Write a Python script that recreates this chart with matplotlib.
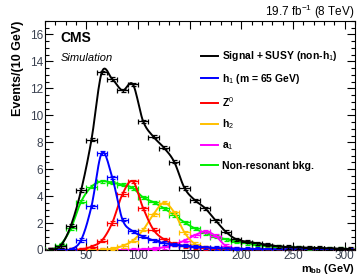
import numpy as np
import matplotlib
matplotlib.use("Agg")
import matplotlib.pyplot as plt
from matplotlib.ticker import MultipleLocator
from matplotlib import font_manager

names = {f.name for f in font_manager.fontManager.ttflist}
FONT = "Liberation Sans Narrow" if "Liberation Sans Narrow" in names else "Liberation Sans"
plt.rcParams['font.family'] = [FONT, 'DejaVu Sans']
plt.rcParams['mathtext.fontset'] = 'custom'
plt.rcParams['mathtext.rm'] = FONT
plt.rcParams['mathtext.bf'] = FONT + ':bold'
plt.rcParams['mathtext.it'] = FONT + ':italic'

# bin centers (GeV), 10 GeV bins
mbb = [15, 25, 35, 45, 55, 65, 75, 85, 95, 105, 115, 125, 135, 145, 155,
       165, 175, 185, 195, 205, 215, 225, 235, 245, 255, 265, 275, 285, 295, 305]

total = [0.02, 0.3, 1.8, 4.45, 8.2, 13.2, 12.7, 11.85, 12.3, 9.55, 8.4, 7.6, 6.55, 4.6, 3.7,
         3.1, 2.2, 1.35, 0.8, 0.62, 0.5, 0.4, 0.28, 0.22, 0.2, 0.17, 0.14, 0.12, 0.1, 0.08]
h1 = [0.0, 0.0, 0.05, 0.75, 3.25, 7.2, 5.4, 2.25, 1.4, 1.0, 0.72, 0.52, 0.4, 0.32, 0.25,
      0.2, 0.15, 0.12, 0.1, 0.08, 0.07, 0.06, 0.06, 0.05, 0.05, 0.04, 0.04, 0.03, 0.03, 0.03]
z0 = [0.0, 0.0, 0.0, 0.05, 0.25, 0.7, 2.0, 4.15, 5.1, 3.1, 1.5, 0.8, 0.45, 0.3, 0.2,
      0.15, 0.1, 0.08, 0.06, 0.05, 0.04, 0.03, 0.03, 0.02, 0.02, 0.02, 0.01, 0.01, 0.01, 0.01]
h2 = [0.0, 0.0, 0.0, 0.0, 0.0, 0.02, 0.1, 0.3, 0.7, 1.5, 2.65, 3.5, 2.8, 1.3, 0.45,
      0.2, 0.1, 0.05, 0.03, 0.02, 0.02, 0.01, 0.01, 0.01, 0.01, 0.0, 0.0, 0.0, 0.0, 0.0]
a1 = [0.0, 0.0, 0.0, 0.0, 0.0, 0.0, 0.0, 0.01, 0.02, 0.05, 0.1, 0.2, 0.4, 0.7, 1.1,
      1.38, 1.05, 0.3, 0.1, 0.05, 0.03, 0.02, 0.02, 0.01, 0.01, 0.01, 0.01, 0.0, 0.0, 0.0]
nonres = [0.05, 0.4, 1.6, 3.6, 4.7, 5.1, 5.0, 4.85, 4.6, 3.9, 3.55, 3.1, 2.6, 2.05, 1.6,
          1.25, 1.0, 0.8, 0.62, 0.5, 0.4, 0.32, 0.25, 0.2, 0.16, 0.13, 0.1, 0.08, 0.07, 0.06]

labels = ["Signal + SUSY (non-h$_{1}$)", "h$_{1}$ (m = 65 GeV)", "Z$^{0}$",
          "h$_{2}$", "a$_{1}$", "Non-resonant bkg."]
colors = ["black", "#0000ff", "#ff0000", "#ffc000", "#ff00ff", "#00ee00"]
series = [total, h1, z0, h2, a1, nonres]


def catmull(x, y, n=12):
    x = np.asarray(x, float)
    y = np.asarray(y, float)
    px = np.concatenate([[2 * x[0] - x[1]], x, [2 * x[-1] - x[-2]]])
    py = np.concatenate([[y[0]], y, [y[-1]]])
    xs, ys = [], []
    t = np.linspace(0, 1, n, endpoint=False)
    for i in range(1, len(px) - 2):
        p0, p1, p2, p3 = py[i - 1], py[i], py[i + 1], py[i + 2]
        yy = 0.5 * ((2 * p1) + (-p0 + p2) * t + (2 * p0 - 5 * p1 + 4 * p2 - p3) * t ** 2
                    + (-p0 + 3 * p1 - 3 * p2 + p3) * t ** 3)
        xx = px[i] + (px[i + 1] - px[i]) * t
        xs.append(xx)
        ys.append(yy)
    xs.append([x[-1]])
    ys.append([y[-1]])
    return np.concatenate(xs), np.clip(np.concatenate(ys), 0, None)


fig = plt.figure(figsize=(3.57, 2.76), dpi=100)
ax = fig.add_axes([45 / 357, 1 - 250 / 276, 310 / 357, 229 / 276])

order = [5, 4, 3, 2, 1, 0]
handles = {}
for i in order:
    y = series[i]
    c = colors[i]
    xs, ys = catmull(mbb, y)
    ln, = ax.plot(xs, ys, color=c, lw=1.4, zorder=3 + (6 - i))
    ax.errorbar(mbb, y, xerr=5, yerr=0.12, fmt='none', ecolor=c, elinewidth=0.9,
                capsize=1.8, capthick=0.9, zorder=3 + (6 - i))
    handles[i] = ln

ax.set_xlim(10, 310)
ax.set_ylim(0, 17)
ax.xaxis.set_major_locator(MultipleLocator(50))
ax.xaxis.set_minor_locator(MultipleLocator(10))
ax.yaxis.set_major_locator(MultipleLocator(2))
ax.yaxis.set_minor_locator(MultipleLocator(0.5))
ax.tick_params(which='both', direction='in', top=True, right=True, width=0.8,
               labelsize=8.5, labelcolor='#3a4150', pad=1.5)
ax.tick_params(axis='x', pad=0.0)
ax.tick_params(which='major', length=6)
ax.tick_params(which='minor', length=3)
for s in ax.spines.values():
    s.set_linewidth(0.8)

ax.set_ylabel("Events/(10 GeV)", fontsize=9, fontweight='bold', loc='top', labelpad=4)
fig.text(355 / 357, 0.0, "m$_{\\mathbf{bb}}$ (GeV)", ha='right', va='bottom',
         fontsize=8, fontweight='bold')

fig.text(355 / 357, 1 - 12 / 276, "19.7 fb$^{-1}$ (8 TeV)", ha='right', va='center', fontsize=8.5)
ax.text(0.05, 0.925, "CMS", transform=ax.transAxes, fontsize=10, fontweight='bold', va='center')
ax.text(0.05, 0.84, "Simulation", transform=ax.transAxes, fontsize=8, style='italic', va='center')

leg = ax.legend([handles[i] for i in range(6)], labels, loc='upper left',
                bbox_to_anchor=(0.49, 0.895), frameon=False, fontsize=7.5,
                handlelength=1.6, handletextpad=0.4, labelspacing=0.85, borderaxespad=0)
for t in leg.get_texts():
    t.set_fontweight('bold')

fig.savefig("out.png", dpi=100)
